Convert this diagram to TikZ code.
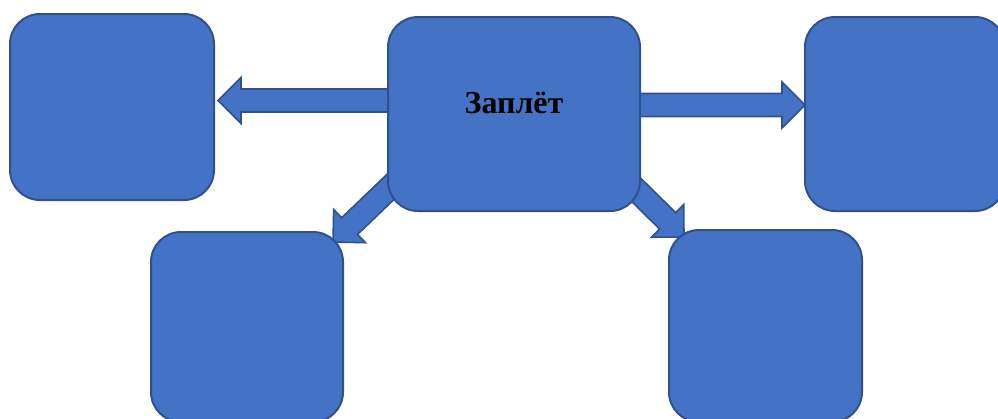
\documentclass[tikz,border=0pt]{standalone}
\usepackage{fontspec}
\setmainfont{Liberation Serif}
\usetikzlibrary{calc,backgrounds}
\definecolor{boxfill}{HTML}{4472C4}
\definecolor{boxline}{HTML}{2F528F}
\tikzset{
  roundbox/.style={draw=boxline, fill=boxfill, line width=2pt, rounded corners=30pt,
    inner sep=0pt, outer sep=0pt},
  blockarrow/.style={draw=boxline, fill=boxfill, line width=1.6pt, line join=miter},
  title/.style={font=\bfseries\fontsize{32}{36}\selectfont, text=black}
}
\newcommand\blockarr[2]{%
  \path ($(#2)!23pt!(#1)$) coordinate (bh);
  \draw[blockarrow] ($(#1)!11.5pt!90:(#2)$) -- ($(bh)!11.5pt!90:(#2)$) -- ($(bh)!23pt!90:(#2)$)
    -- (#2) -- ($(bh)!23pt!-90:(#2)$) -- ($(bh)!11.5pt!-90:(#2)$) -- ($(#1)!11.5pt!-90:(#2)$) -- cycle;
}
\begin{document}
\begin{tikzpicture}[x=1pt,y=-1pt]
\useasboundingbox (0,0) rectangle (998,418);
\clip (0,0) rectangle (998,418);
\node[roundbox, minimum width=204pt, minimum height=186pt] (L) at (112,107) {};
\node[roundbox, minimum width=252pt, minimum height=194pt] (C) at (514,114) {};
\node[roundbox, minimum width=200pt, minimum height=194pt] (R) at (905,114) {};
\node[roundbox, minimum width=192pt, minimum height=190pt] (BL) at (247,327) {};
\node[roundbox, minimum width=193pt, minimum height=192pt] (BR) at (765.5,326) {};
\node[title] (lbl) at ([yshift=11pt]C.center) {Заплёт};
\coordinate (sL) at (395,100.5);
\coordinate (tL) at (218,100.5);
\coordinate (sR) at (630,105);
\coordinate (tR) at (805,105);
\coordinate (sBL) at (405,173);
\coordinate (tBL) at (333,242);
\coordinate (sBR) at (613,167);
\coordinate (tBR) at (684,237);
\begin{scope}[on background layer]
\blockarr{sL}{tL}
\blockarr{sR}{tR}
\blockarr{sBL}{tBL}
\blockarr{sBR}{tBR}
\end{scope}
\end{tikzpicture}
\end{document}
